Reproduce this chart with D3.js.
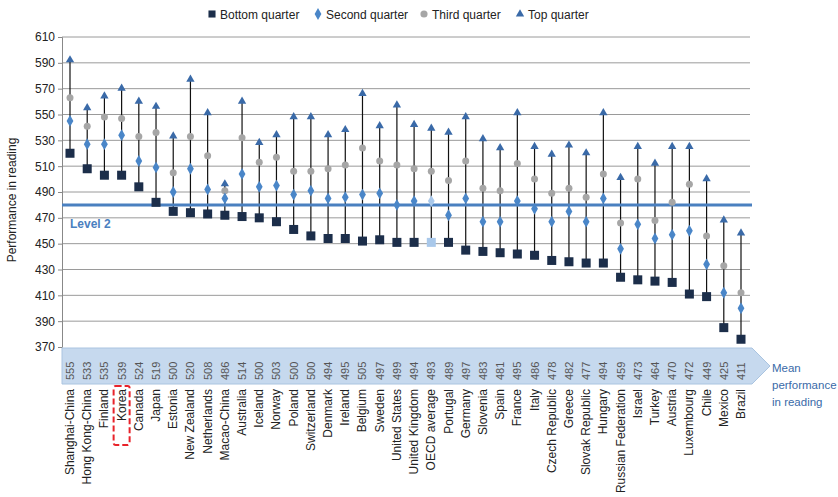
<!DOCTYPE html>
<html><head><meta charset="utf-8">
<script src="https://cdn.jsdelivr.net/npm/d3@7"></script>
<style>body{margin:0;background:#fff}svg{font-family:"Liberation Sans",Arial,sans-serif}</style>
</head><body><div id="chart"></div>
<script>
var countries = ["Shanghai-China","Hong Kong-China","Finland","Korea","Canada","Japan","Estonia","New Zealand","Netherlands","Macao-China","Australia","Iceland","Norway","Poland","Switzerland","Denmark","Ireland","Belgium","Sweden","United States","United Kingdom","OECD average","Portugal","Germany","Slovenia","Spain","France","Italy","Czech Republic","Greece","Slovak Republic","Hungary","Russian Federation","Israel","Turkey","Austria","Luxembourg","Chile","Mexico","Brazil"];
var means = [555,533,535,539,524,519,500,520,508,486,514,500,503,500,500,494,495,505,497,499,494,493,489,497,483,481,495,486,478,482,477,494,459,473,464,470,472,449,425,411];
var bottom = [520,508,503,503,494,482,475,474,473,472,471,470,467,461,456,454,454,452,453,451,451,451,451,445,444,443,442,441,437,436,435,435,424,422,421,420,411,409,385,376];
var second = [545,527,527,534,514,509,490,508,492,485,504,494,495,488,491,485,486,488,489,480,483,483,472,485,467,467,483,477,467,475,467,485,446,465,454,457,460,434,412,400];
var third = [563,541,548,547,533,536,505,533,518,491,532,513,517,506,506,508,511,524,514,511,508,506,499,514,493,491,512,500,489,493,486,504,466,500,468,482,496,456,433,412];
var top4 = [593,556,565,571,561,557,534,578,552,497,561,529,535,549,549,535,539,567,542,558,543,540,537,549,532,525,552,526,520,527,521,552,502,526,513,526,526,501,469,459];
var yTicks = d3.range(370, 611, 20);
var level2 = 480;

var W = 838, H = 497;
var svg = d3.select("#chart").append("svg").attr("width", W).attr("height", H);

var x = d3.scalePoint().domain(countries).range([70, 741]);
var y = d3.scaleLinear().domain([370, 610]).range([347, 37]);

// gridlines
svg.append("g").selectAll("line").data(yTicks.slice(1)).enter().append("line")
    .attr("x1", 62).attr("x2", 750)
    .attr("y1", d => y(d)).attr("y2", d => y(d))
    .attr("stroke", "#9a9a9a").attr("stroke-width", 1);

// y axis
var yAxis = svg.append("g").attr("transform", "translate(62,0)")
    .call(d3.axisLeft(y).tickValues(yTicks).tickSize(4));
yAxis.select(".domain").attr("stroke", "#888");
yAxis.selectAll(".tick line").attr("stroke", "#888");
yAxis.selectAll("text").attr("font-size", 12).attr("fill", "#222");

svg.append("text").attr("transform", "translate(16,200) rotate(-90)")
    .attr("text-anchor", "middle").attr("font-size", 12).attr("fill", "#222")
    .text("Performance in reading");

// mean band with arrow
svg.append("path")
    .attr("d", "M62,348 L752,348 L770,366 L752,384 L62,384 Z")
    .attr("fill", "#c6d9ee").attr("stroke", "#aac4e0");
svg.append("g").selectAll("text").data(countries).enter().append("text")
    .attr("transform", (d, i) => "translate(" + (x(d) + 4) + ",380) rotate(-90)")
    .attr("font-size", 11).attr("fill", "#555")
    .text((d, i) => means[i]);
var ml = svg.append("text").attr("x", 772).attr("font-size", 11.5).attr("fill", "#3a6aa8");
["Mean", "performance", "in reading"].forEach((t, i) =>
    ml.append("tspan").attr("x", 772).attr("y", 372 + i * 17).text(t));

// country labels
svg.append("g").selectAll("text").data(countries).enter().append("text")
    .attr("transform", d => "translate(" + (x(d) + 4) + ",389) rotate(-90)")
    .attr("text-anchor", "end").attr("font-size", 12).attr("fill", "#222")
    .text(d => d);
svg.append("rect").attr("x", x("Korea") - 8).attr("y", 386).attr("width", 16).attr("height", 59)
    .attr("rx", 2).attr("fill", "none").attr("stroke", "#e8232a").attr("stroke-width", 2)
    .attr("stroke-dasharray", "6,3");

// stems
svg.append("g").selectAll("line").data(countries).enter().append("line")
    .attr("x1", d => x(d)).attr("x2", d => x(d))
    .attr("y1", (d, i) => y(bottom[i])).attr("y2", (d, i) => y(top4[i]))
    .attr("stroke", "#111").attr("stroke-width", 1.2);

// level 2 line
svg.append("line").attr("x1", 62).attr("x2", 752).attr("y1", y(level2)).attr("y2", y(level2))
    .attr("stroke", "#4a80c0").attr("stroke-width", 3);
svg.append("text").attr("x", 70).attr("y", y(level2) + 23).attr("font-size", 12)
    .attr("font-weight", "bold").attr("fill", "#4a80c0").text("Level 2");

// markers
var isOecd = d => d === "OECD average";
svg.append("g").selectAll("circle").data(countries).enter().append("circle")
    .attr("cx", d => x(d)).attr("cy", (d, i) => y(third[i])).attr("r", 3.5)
    .attr("fill", "#a6a6a6");
svg.append("g").selectAll("path").data(countries).enter().append("path")
    .attr("transform", (d, i) => "translate(" + x(d) + "," + y(second[i]) + ")")
    .attr("d", d3.symbol(d3.symbolDiamond, 40)())
    .attr("fill", d => isOecd(d) ? "#a9c8ea" : "#4a86c8");
svg.append("g").selectAll("path").data(countries).enter().append("path")
    .attr("transform", (d, i) => "translate(" + x(d) + "," + (y(top4[i]) + 1) + ")")
    .attr("d", d3.symbol(d3.symbolTriangle, 30)())
    .attr("fill", "#3a6aa8");
svg.append("g").selectAll("rect").data(countries).enter().append("rect")
    .attr("x", d => x(d) - 4.5).attr("y", (d, i) => y(bottom[i]) - 4.5)
    .attr("width", 9).attr("height", 9)
    .attr("fill", d => isOecd(d) ? "#a9c8ea" : "#1c2e4a");

// legend
var legend = [
    {label: "Bottom quarter", sym: d3.symbolSquare, size: 50, color: "#1c2e4a", x: 212},
    {label: "Second quarter", sym: d3.symbolDiamond, size: 40, color: "#4a86c8", x: 318},
    {label: "Third quarter", sym: d3.symbolCircle, size: 40, color: "#a6a6a6", x: 424},
    {label: "Top quarter", sym: d3.symbolTriangle, size: 30, color: "#3a6aa8", x: 520}
];
var lg = svg.append("g").selectAll("g").data(legend).enter().append("g")
    .attr("transform", d => "translate(" + d.x + ",14)");
lg.append("path").attr("d", d => d3.symbol(d.sym, d.size)()).attr("fill", d => d.color);
lg.append("text").attr("x", 8).attr("y", 4.5).attr("font-size", 12).attr("fill", "#222").text(d => d.label);
</script>
</body></html>
